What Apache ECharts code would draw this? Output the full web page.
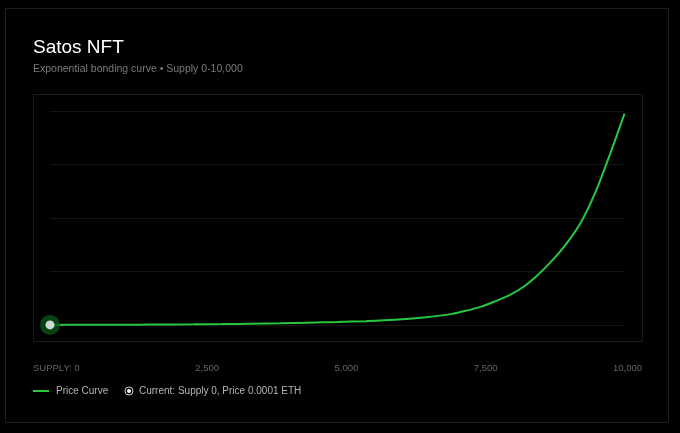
<!DOCTYPE html>
<html>
<head>
<meta charset="utf-8">
<script src="https://cdn.jsdelivr.net/npm/echarts@6/dist/echarts.min.js"></script>
<style>
html,body{margin:0;padding:0;background:#000;}
#chart{width:680px;height:433px;}
</style>
</head>
<body>
<div id="chart"></div>
<script>
const titleText = 'Satos NFT';
const subtitleText = 'Exponential bonding curve \u2022 Supply 0-10,000';
const supply = [0, 500, 1000, 1500, 2000, 2500, 3000, 3500, 4000, 4500, 5000, 5500, 6000, 6500, 7000, 7250, 7500, 7750, 8000, 8250, 8500, 8750, 9000, 9250, 9500, 9750, 10000];
const price = [0.0001, 0.0002, 0.0003, 0.0004, 0.0006, 0.0008, 0.0011, 0.0015, 0.0020, 0.0027, 0.0035, 0.0045, 0.0060, 0.0088, 0.0130, 0.0168, 0.0215, 0.0278, 0.0350, 0.0450, 0.0590, 0.0760, 0.0960, 0.1210, 0.1560, 0.2000, 0.2470];
const currentPoint = [0, 0.0001];
const xTickLabels = ['SUPPLY: 0', '2,500', '5,000', '7,500', '10,000'];
const legendLabels = ['Price Curve', 'Current: Supply 0, Price 0.0001 ETH'];

const GREEN = '#27c840';
const FONT = '"Liberation Sans", Arial, Helvetica, sans-serif';

const chart = echarts.init(document.getElementById('chart'), null, {renderer: 'canvas'});

const cv = document.createElement('canvas').getContext('2d');
const tickFont = '9.5px ' + FONT;
cv.font = tickFont;
const widths = xTickLabels.map(t => cv.measureText(t).width);
const rowLeft = 33, rowRight = 642;
const totalW = widths.reduce((a, b) => a + b, 0);
const gap = (rowRight - rowLeft - totalW) / (xTickLabels.length - 1);
const tickGraphics = [];
let cx = rowLeft;
xTickLabels.forEach((t, i) => {
  tickGraphics.push({
    type: 'text', left: cx, top: 363,
    style: {text: t, font: tickFont, fill: '#646464'}
  });
  cx += widths[i] + gap;
});

const option = {
  backgroundColor: '#000',
  animation: false,
  title: {
    text: titleText,
    subtext: subtitleText,
    left: 33, top: 38, padding: 0,
    itemGap: 7,
    textStyle: {color: '#fff', fontSize: 19, fontWeight: 'normal', fontFamily: FONT},
    subtextStyle: {color: '#7a7a7a', fontSize: 10.5, fontFamily: FONT}
  },
  grid: {left: 50, right: 55.5, top: 111, bottom: 108},
  xAxis: {
    type: 'value', min: 0, max: 10000,
    axisLine: {show: false}, axisTick: {show: false}, axisLabel: {show: false},
    splitLine: {show: false}
  },
  yAxis: {
    type: 'value', min: 0, max: 0.25, interval: 0.0625,
    axisLine: {show: false}, axisTick: {show: false}, axisLabel: {show: false},
    splitLine: {show: true, lineStyle: {color: '#151515', width: 1}}
  },
  series: [
    {
      name: legendLabels[0], type: 'line', smooth: 0.3, showSymbol: false,
      data: supply.map((s, i) => [s, price[i]]),
      lineStyle: {color: GREEN, width: 2},
      z: 3
    },
    {
      name: 'halo', type: 'scatter',
      data: [currentPoint],
      symbolSize: 20,
      itemStyle: {color: '#0b5219'},
      z: 4
    },
    {
      name: legendLabels[1], type: 'scatter',
      data: [currentPoint],
      symbolSize: 9,
      itemStyle: {color: '#ffffff'},
      z: 5
    }
  ],
  graphic: [
    {type: 'rect', shape: {x: 5.5, y: 8.5, width: 663, height: 414}, style: {fill: 'none', stroke: '#1d1d1d', lineWidth: 1}, z: -10},
    {type: 'rect', shape: {x: 33.5, y: 94.5, width: 609, height: 247}, style: {fill: 'none', stroke: '#1b1b1b', lineWidth: 1}, z: -10},
    ...tickGraphics,
    {type: 'line', shape: {x1: 33, y1: 391, x2: 49, y2: 391}, style: {stroke: GREEN, lineWidth: 2}},
    {type: 'text', left: 56, top: 386, style: {text: legendLabels[0], font: '10px ' + FONT, fill: '#b5b5b5'}},
    {type: 'circle', shape: {cx: 129, cy: 391, r: 4}, style: {fill: 'none', stroke: '#cfcfcf', lineWidth: 1}},
    {type: 'circle', shape: {cx: 129, cy: 391, r: 2}, style: {fill: '#ffffff'}},
    {type: 'text', left: 139, top: 386, style: {text: legendLabels[1], font: '10px ' + FONT, fill: '#b5b5b5'}}
  ]
};
chart.setOption(option);
</script>
</body>
</html>
